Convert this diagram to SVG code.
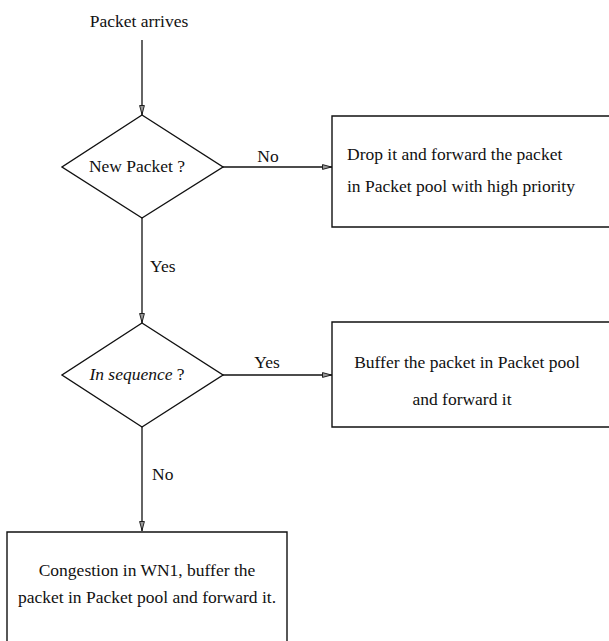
<svg xmlns="http://www.w3.org/2000/svg" width="609" height="641" viewBox="0 0 609 641">
<style>
  .shape { fill: none; stroke: #111; stroke-width: 1.4; }
  .conn { fill: none; stroke: #111; stroke-width: 1.3; }
  text { font-family: "Liberation Serif", "Times New Roman", serif; font-size: 17.5px; fill: #111; }
  .mid { text-anchor: middle; }
  .it { font-style: italic; }
</style>
<defs>
  <marker id="arr" viewBox="0 0 10 6" refX="10" refY="3" markerWidth="10" markerHeight="6" markerUnits="userSpaceOnUse" orient="auto">
    <path d="M0.5,0.6 L9.5,3 L0.5,5.4 Z" fill="#999" stroke="#111" stroke-width="0.9"/>
  </marker>
</defs>

<g id="start">
  <text x="139" y="27" class="mid">Packet arrives</text>
</g>

<g id="d1">
  <polygon class="shape" points="142,115 223,167 142,218 62,167"/>
  <text x="137" y="172" class="mid">New Packet ?</text>
</g>

<g id="box1">
  <path class="shape" d="M615,116 L332,116 L332,227 L615,227"/>
  <text x="347" y="160">Drop it and forward the packet</text>
  <text x="347" y="192">in Packet pool with high priority</text>
</g>

<g id="d2">
  <polygon class="shape" points="142,323 223,375 142,427 62,375"/>
  <text x="137" y="380" class="mid"><tspan class="it">In sequence</tspan> ?</text>
</g>

<g id="box2">
  <path class="shape" d="M615,322 L332,322 L332,427 L615,427"/>
  <text x="467" y="368" class="mid">Buffer the packet in Packet pool</text>
  <text x="462" y="405" class="mid">and forward it</text>
</g>

<g id="box3">
  <path class="shape" d="M7,645 L7,532 L287,532 L287,645"/>
  <text x="147" y="576" class="mid">Congestion in WN1, buffer the</text>
  <text x="147" y="603" class="mid">packet in Packet pool and forward it.</text>
</g>

<g id="connectors">
  <line class="conn" x1="142" y1="40" x2="142" y2="115" marker-end="url(#arr)"/>
  <line class="conn" x1="223" y1="167" x2="332" y2="167" marker-end="url(#arr)"/>
  <text x="268" y="162" class="mid">No</text>
  <line class="conn" x1="142" y1="218" x2="142" y2="323" marker-end="url(#arr)"/>
  <text x="150" y="272">Yes</text>
  <line class="conn" x1="223" y1="375" x2="332" y2="375" marker-end="url(#arr)"/>
  <text x="267" y="368" class="mid">Yes</text>
  <line class="conn" x1="142" y1="427" x2="142" y2="531" marker-end="url(#arr)"/>
  <text x="152" y="480">No</text>
</g>
</svg>
